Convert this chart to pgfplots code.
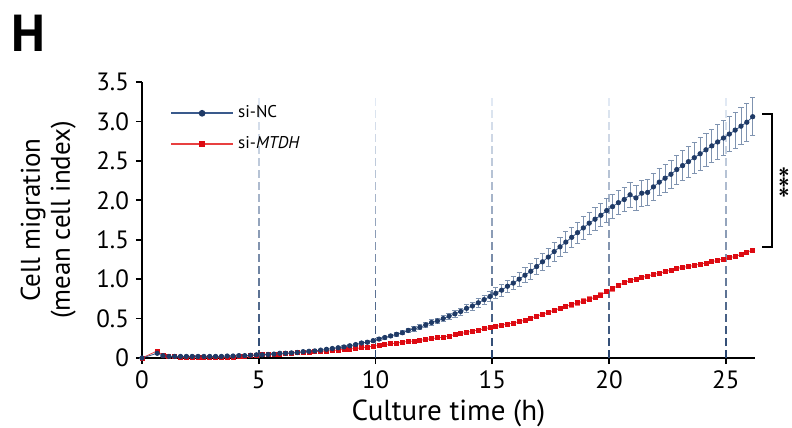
\documentclass[border=0pt]{standalone}
\usepackage{fontspec}
\setmainfont{PT Sans}
\usepackage{pgfplots}
\usepackage{pgfplotstable}
\pgfplotsset{compat=1.18}
\definecolor{ncblue}{HTML}{1F3A66}
\definecolor{ncline}{HTML}{3A5A8C}
\definecolor{ncerr}{HTML}{7F93B0}
\definecolor{mred}{HTML}{DD0A12}
\definecolor{mredline}{HTML}{E84040}
\definecolor{mrederr}{HTML}{F07070}
\definecolor{dashdark}{HTML}{2A4670}
\definecolor{dashlight}{HTML}{E6EDF7}

\pgfplotstableread{
t v e
0 0.00 0.00
0.65 0.06 0.01
0.9 0.03 0.01
1.15 0.02 0.01
1.4 0.02 0.01
1.65 0.02 0.01
1.9 0.02 0.01
2.15 0.02 0.01
2.4 0.02 0.01
2.65 0.02 0.01
2.9 0.02 0.01
3.15 0.02 0.01
3.4 0.02 0.01
3.65 0.025 0.01
3.9 0.025 0.01
4.15 0.03 0.01
4.4 0.03 0.01
4.65 0.035 0.01
4.9 0.04 0.01
5.15 0.04 0.01
5.4 0.045 0.01
5.65 0.05 0.01
5.9 0.06 0.01
6.15 0.06 0.01
6.4 0.065 0.01
6.65 0.07 0.01
6.9 0.08 0.01
7.15 0.085 0.01
7.4 0.09 0.01
7.65 0.10 0.01
7.9 0.11 0.01
8.15 0.12 0.015
8.4 0.13 0.015
8.65 0.14 0.015
8.9 0.155 0.015
9.15 0.17 0.015
9.4 0.19 0.015
9.65 0.20 0.02
9.9 0.22 0.02
10.15 0.24 0.02
10.4 0.26 0.02
10.65 0.28 0.02
10.9 0.30 0.025
11.15 0.32 0.025
11.4 0.35 0.025
11.65 0.37 0.03
11.9 0.39 0.03
12.15 0.42 0.03
12.4 0.45 0.035
12.65 0.47 0.035
12.9 0.50 0.04
13.15 0.53 0.04
13.4 0.56 0.045
13.65 0.59 0.045
13.9 0.63 0.05
14.15 0.66 0.05
14.4 0.70 0.055
14.65 0.74 0.06
14.9 0.78 0.065
15.15 0.82 0.07
15.4 0.86 0.075
15.65 0.91 0.08
15.9 0.95 0.085
16.15 1.00 0.09
16.4 1.05 0.095
16.65 1.10 0.10
16.9 1.16 0.105
17.15 1.22 0.11
17.4 1.28 0.115
17.65 1.35 0.12
17.9 1.41 0.125
18.15 1.47 0.13
18.4 1.53 0.13
18.65 1.59 0.135
18.9 1.65 0.14
19.15 1.71 0.14
19.4 1.76 0.145
19.65 1.81 0.145
19.9 1.87 0.15
20.15 1.92 0.15
20.4 1.97 0.155
20.65 2.01 0.155
20.9 2.07 0.16
21.15 2.03 0.16
21.4 2.09 0.165
21.65 2.10 0.165
21.9 2.17 0.17
22.15 2.23 0.17
22.4 2.28 0.175
22.65 2.33 0.18
22.9 2.39 0.185
23.15 2.44 0.19
23.4 2.49 0.195
23.65 2.54 0.20
23.9 2.59 0.205
24.15 2.64 0.21
24.4 2.69 0.215
24.65 2.74 0.22
24.9 2.79 0.22
25.15 2.84 0.225
25.4 2.89 0.23
25.65 2.94 0.235
25.9 2.99 0.24
26.15 3.06 0.24
}\ncdata

\pgfplotstableread{
t v e
0 0.00 0.00
0.65 0.09 0.01
0.9 0.03 0.01
1.15 0.02 0.005
1.4 0.015 0.005
1.65 0.01 0.005
1.9 0.01 0.005
2.15 0.01 0.005
2.4 0.01 0.005
2.65 0.01 0.005
2.9 0.01 0.005
3.15 0.01 0.005
3.4 0.01 0.005
3.65 0.01 0.005
3.9 0.01 0.005
4.15 0.015 0.005
4.4 0.02 0.005
4.65 0.03 0.005
4.9 0.035 0.005
5.15 0.04 0.005
5.4 0.045 0.005
5.65 0.05 0.005
5.9 0.05 0.005
6.15 0.055 0.005
6.4 0.06 0.005
6.65 0.065 0.005
6.9 0.07 0.005
7.15 0.075 0.005
7.4 0.08 0.005
7.65 0.085 0.005
7.9 0.09 0.005
8.15 0.095 0.01
8.4 0.10 0.01
8.65 0.11 0.01
8.9 0.115 0.01
9.15 0.12 0.01
9.4 0.13 0.01
9.65 0.14 0.01
9.9 0.15 0.01
10.15 0.16 0.015
10.4 0.17 0.015
10.65 0.18 0.015
10.9 0.19 0.015
11.15 0.20 0.015
11.4 0.21 0.015
11.65 0.215 0.015
11.9 0.225 0.015
12.15 0.235 0.02
12.4 0.245 0.02
12.65 0.255 0.02
12.9 0.265 0.02
13.15 0.28 0.02
13.4 0.295 0.02
13.65 0.31 0.02
13.9 0.325 0.02
14.15 0.34 0.02
14.4 0.355 0.02
14.65 0.37 0.02
14.9 0.385 0.025
15.15 0.40 0.025
15.4 0.415 0.025
15.65 0.43 0.025
15.9 0.445 0.025
16.15 0.46 0.025
16.4 0.48 0.025
16.65 0.505 0.025
16.9 0.53 0.025
17.15 0.555 0.025
17.4 0.58 0.025
17.65 0.605 0.025
17.9 0.63 0.025
18.15 0.655 0.03
18.4 0.675 0.03
18.65 0.70 0.03
18.9 0.72 0.03
19.15 0.745 0.03
19.4 0.77 0.03
19.65 0.80 0.03
19.9 0.845 0.03
20.15 0.88 0.03
20.4 0.92 0.03
20.65 0.955 0.025
20.9 0.985 0.025
21.15 1.00 0.02
21.4 1.02 0.02
21.65 1.04 0.02
21.9 1.06 0.015
22.15 1.075 0.01
22.4 1.095 0.01
22.65 1.115 0.01
22.9 1.135 0.01
23.15 1.15 0.01
23.4 1.16 0.01
23.65 1.175 0.01
23.9 1.19 0.01
24.15 1.205 0.01
24.4 1.22 0.01
24.65 1.24 0.01
24.9 1.255 0.01
25.15 1.27 0.01
25.4 1.29 0.01
25.65 1.31 0.01
25.9 1.34 0.01
26.15 1.37 0.01
}\mtdhdata

\begin{document}
\begin{tikzpicture}
\path[use as bounding box] (0,0) rectangle (396pt,214pt);
\node[anchor=base west, inner sep=0pt, font=\fontsize{26}{30}\selectfont\bfseries] at (5.5pt,188pt) {H};
\begin{axis}[
  at={(71pt,35pt)}, anchor=south west,
  scale only axis, width=306.5pt, height=138pt,
  xmin=0, xmax=26.25, ymin=0, ymax=3.5,
  axis x line*=bottom, axis y line*=left,
  axis line style={line width=1pt, black},
  clip=false,
  xtick={0,5,10,15,20,25},
  ytick={0,0.5,1,1.5,2,2.5,3,3.5},
  yticklabels={0,0.5,1.0,1.5,2.0,2.5,3.0,3.5},
  tick align=outside, major tick length=3pt,
  tick style={black, line width=0.8pt},
  /pgf/number format/assume math mode=true,
  ticklabel style={font=\fontsize{12.5}{14}\selectfont},
  xlabel={Culture time (h)},
  xlabel style={at={(axis description cs:0.5,0)}, anchor=base, yshift=-31pt, font=\fontsize{14.5}{16}\selectfont},
  ylabel={Cell migration\\(mean cell index)},
  ylabel style={at={(axis description cs:-0.153,0.5)}, anchor=center, align=center, font=\fontsize{13.5}{15}\selectfont},
  legend style={at={(axis description cs:0.045,0.93)}, anchor=north west, draw=none, fill=none,
    font=\fontsize{8.5}{10}\selectfont, row sep=4pt, inner sep=0pt},
  legend cell align=left,
  reverse legend,
  legend image code/.code={\draw[#1, line width=1.1pt, mark repeat=2, mark phase=2] plot coordinates {(0pt,0pt) (15.5pt,0pt) (31pt,0pt)};},
]
\foreach \xv in {5,10,15,20,25} {
  \foreach \k in {0,...,21} {
    \pgfmathsetmacro{\ya}{\k*0.1522}
    \pgfmathsetmacro{\yb}{\ya+0.1015}
    \pgfmathsetmacro{\p}{100*(1-\k/22)^1.2}
    \edef\temp{\noexpand\draw[color=dashdark!\p!dashlight, line width=0.8pt] (axis cs:\xv,\ya) -- (axis cs:\xv,\yb);}
    \temp
  }
}
\addplot[color=mredline, line width=0.4pt, mark=square*, mark size=1.0pt,
  mark options={fill=mred, draw=mred},
  error bars/.cd, y dir=both, y explicit,
  error bar style={color=mrederr, line width=0.4pt},
  error mark options={rotate=90, mark size=1.2pt, color=mrederr}]
  table[x=t, y=v, y error=e] {\mtdhdata};
\addlegendentry{si-\textit{MTDH}}
\addplot[color=ncline, line width=0.4pt, mark=*, mark size=1.1pt,
  mark options={fill=ncblue, draw=ncblue},
  error bars/.cd, y dir=both, y explicit,
  error bar style={color=ncerr, line width=0.4pt},
  error mark options={rotate=90, mark size=1.3pt, color=ncerr}]
  table[x=t, y=v, y error=e] {\ncdata};
\addlegendentry{si-NC}
\draw[line width=1pt, black] (axis cs:26.57,3.09) -- (axis cs:26.97,3.09) -- (axis cs:26.97,1.41) -- (axis cs:26.57,1.41);
\node[font=\fontsize{17}{17}\selectfont, inner sep=0pt, rotate=-90] at (axis cs:27.18,2.23) {*\kern-1pt*\kern-1pt*};
\end{axis}
\end{tikzpicture}
\end{document}
